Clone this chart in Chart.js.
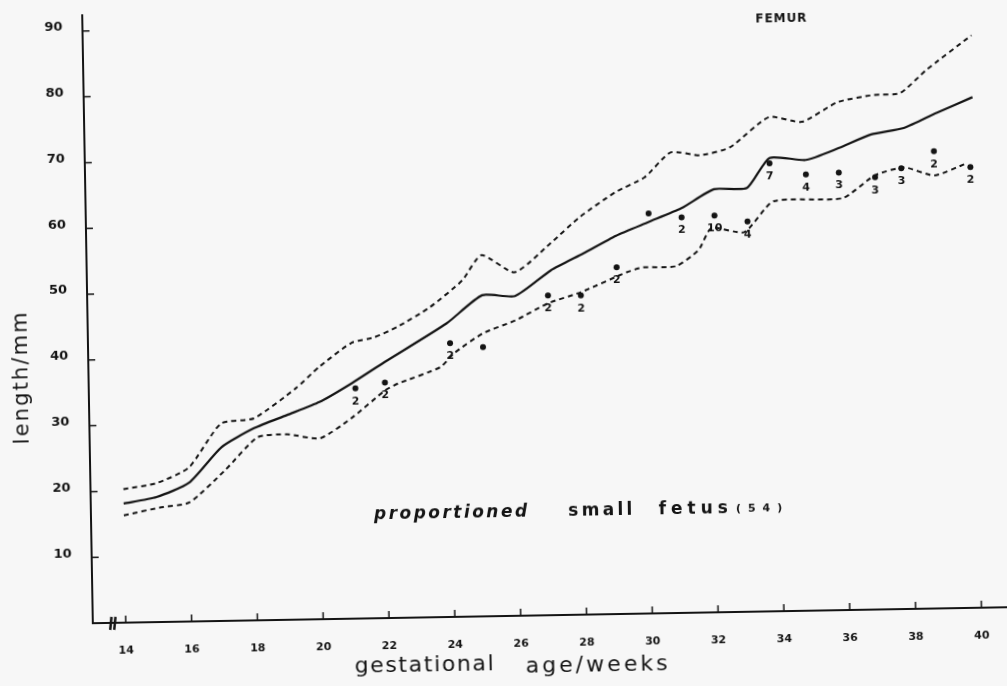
<!DOCTYPE html>
<html>
<head>
<meta charset="utf-8">
<script src="https://cdn.jsdelivr.net/npm/chart.js@4.4.1/dist/chart.umd.min.js"></script>
<style>
  html, body { margin: 0; padding: 0; background: #f7f7f7; overflow: hidden; }
  #wrap { width: 1007px; height: 686px; }
  /* the scanned page sits slightly tilted */
  #femurChart { transform: rotate(-1deg); transform-origin: 50% 50%; }
</style>
</head>
<body>
<div id="wrap"><canvas id="femurChart" width="1007" height="686"></canvas></div>
<script>
const ink = '#141414';

const xTicks = [14, 16, 18, 20, 22, 24, 26, 28, 30, 32, 34, 36, 38, 40];
const yTicks = [10, 20, 30, 40, 50, 60, 70, 80, 90];

// upper dashed curve
const upperWeeks  = [14, 15, 16, 17, 18, 19.3, 20, 21, 21.7, 22.4, 23.4, 24.4, 25, 26, 27.1, 28, 29.1, 30, 30.8, 31.7, 32.6, 33.8, 34.8, 35.9, 37, 37.8, 38.6, 40];
const upperLength = [20.3, 21.1, 23.4, 30.0, 30.7, 35.2, 38.3, 41.9, 42.7, 44.2, 47.1, 51.1, 54.9, 52.2, 56.5, 60.4, 64.1, 66.3, 70.0, 69.5, 70.6, 75.1, 74.3, 77.2, 78.2, 78.4, 81.8, 87.0];

// solid middle curve
const medianWeeks  = [14, 15, 16, 17, 18, 19, 20, 21, 22, 23.9, 25, 26, 27.1, 28.1, 29.1, 30.1, 31.1, 32.1, 33.1, 33.8, 34.9, 35.9, 36.9, 37.9, 38.9, 40];
const medianLength = [18.1, 19.0, 21.1, 26.4, 29.2, 31.1, 33.0, 35.8, 38.9, 44.6, 48.8, 48.6, 52.4, 54.9, 57.5, 59.5, 61.5, 64.3, 64.4, 68.9, 68.5, 70.2, 72.2, 73.1, 75.3, 77.6];

// lower dashed curve
const lowerWeeks  = [14, 15.1, 16, 17.1, 18.1, 19, 20, 21, 22, 22.4, 23.7, 24.1, 25, 26, 27, 28, 29.4, 29.9, 30.9, 31.6, 32, 33, 33.9, 36, 37, 37.9, 38.8, 39.8];
const lowerLength = [16.3, 17.4, 18.1, 22.9, 27.8, 28.2, 27.5, 30.6, 34.6, 35.6, 38.0, 40.0, 43.0, 44.9, 47.4, 49.0, 51.9, 52.6, 52.7, 55.1, 58.4, 57.7, 62.3, 62.6, 66.0, 67.1, 65.8, 67.6];

// proportioned small fetus measurements, with number of cases
const pointWeeks  = [21.1, 22, 24, 25, 27, 28, 29.1, 30.1, 31.1, 32.1, 33.1, 33.8, 34.9, 35.9, 37, 37.8, 38.8, 39.9];
const pointLength = [35.0, 35.8, 41.6, 40.9, 48.6, 48.5, 52.7, 60.8, 60.1, 60.3, 59.3, 68.1, 66.3, 66.5, 65.7, 67.0, 69.5, 67.0];
const pointCounts = ['2', '2', '2', '', '2', '2', '2', '', '2', '10', '4', '7', '4', '3', '3', '3', '2', '2'];

const toXY = (xs, ys) => xs.map((v, i) => ({ x: v, y: ys[i] }));

// draws text stretched letter by letter between x0 and x1
function spaced(ctx, text, x0, x1, yBase) {
  const chars = [...text];
  const widths = chars.map(c => ctx.measureText(c).width);
  const total = widths.reduce((a, b) => a + b, 0);
  const gap = chars.length > 1 ? (x1 - x0 - total) / (chars.length - 1) : 0;
  let cx = x0;
  ctx.textAlign = 'left';
  chars.forEach((c, i) => { ctx.fillText(c, cx, yBase); cx += widths[i] + gap; });
}

const annotations = {
  id: 'annotations',
  afterDraw(chart) {
    const { ctx, scales: { x, y }, chartArea } = chart;
    ctx.save();
    ctx.fillStyle = ink;
    ctx.strokeStyle = ink;

    // tick marks pointing into the plot
    ctx.lineWidth = 1.5;
    ctx.beginPath();
    xTicks.forEach(v => {
      const px = x.getPixelForValue(v);
      ctx.moveTo(px, chartArea.bottom); ctx.lineTo(px, chartArea.bottom - 7);
    });
    yTicks.forEach(v => {
      const py = y.getPixelForValue(v);
      ctx.moveTo(chartArea.left, py); ctx.lineTo(chartArea.left + 7, py);
    });
    ctx.stroke();

    // case counts under the dots
    ctx.font = 'bold 11px "DejaVu Sans"';
    ctx.textAlign = 'center';
    ctx.textBaseline = 'middle';
    pointWeeks.forEach((w, i) => {
      if (!pointCounts[i]) return;
      ctx.fillText(pointCounts[i], x.getPixelForValue(w), y.getPixelForValue(pointLength[i]) + 13);
    });

    ctx.textBaseline = 'alphabetic';
    ctx.font = 'bold 12px "DejaVu Sans"';
    spaced(ctx, 'FEMUR', x.getPixelForValue(33.45), x.getPixelForValue(35.0), y.getPixelForValue(89.5));

    const yb = y.getPixelForValue(15.0);
    ctx.font = 'italic bold 17px "DejaVu Sans"';
    spaced(ctx, 'proportioned', x.getPixelForValue(21.6), x.getPixelForValue(26.25), yb);
    ctx.font = 'bold 17px "DejaVu Sans"';
    spaced(ctx, 'small', x.getPixelForValue(27.5), x.getPixelForValue(29.45), yb);
    spaced(ctx, 'fetus', x.getPixelForValue(30.25), x.getPixelForValue(32.35), yb);
    ctx.font = 'bold 11px "DejaVu Sans"';
    spaced(ctx, '(54)', x.getPixelForValue(32.6), x.getPixelForValue(34.0), yb - 1);

    // axis titles
    ctx.font = '22px "DejaVu Sans"';
    spaced(ctx, 'gestational', 349, 488, 670);
    spaced(ctx, 'age/weeks', 520, 662, 673);
    ctx.save();
    ctx.font = '21px "DejaVu Sans"';
    ctx.translate(27, 436);
    ctx.rotate(-Math.PI / 2);
    spaced(ctx, 'length/mm', 0, 132, 0);
    ctx.restore();

    // break mark on the week axis
    const bx = x.getPixelForValue(13.6), by = chartArea.bottom;
    ctx.lineWidth = 2.5;
    ctx.beginPath();
    ctx.moveTo(bx - 2.5, by + 7); ctx.lineTo(bx - 1, by - 6);
    ctx.moveTo(bx + 1.5, by + 7); ctx.lineTo(bx + 3, by - 6);
    ctx.stroke();
    ctx.restore();
  }
};

const lineStyle = {
  borderColor: ink,
  borderWidth: 2,
  pointRadius: 0,
  tension: 0.2,
  fill: false
};

new Chart(document.getElementById('femurChart'), {
  type: 'line',
  data: {
    datasets: [
      { ...lineStyle, label: 'upper', data: toXY(upperWeeks, upperLength), borderDash: [5, 4] },
      { ...lineStyle, label: 'median', data: toXY(medianWeeks, medianLength), borderWidth: 2.2 },
      { ...lineStyle, label: 'lower', data: toXY(lowerWeeks, lowerLength), borderDash: [5, 4] },
      {
        label: 'proportioned small fetus',
        data: toXY(pointWeeks, pointLength),
        showLine: false,
        pointRadius: 3,
        pointBackgroundColor: ink,
        pointBorderWidth: 0
      }
    ]
  },
  options: {
    responsive: false,
    animation: false,
    layout: { padding: { top: 8, right: 4, left: 0, bottom: 0 } },
    plugins: { legend: { display: false }, tooltip: { enabled: false } },
    scales: {
      x: {
        type: 'linear',
        min: 13,
        max: 40.8,
        afterBuildTicks: axis => { axis.ticks = xTicks.map(v => ({ value: v })); },
        afterFit: axis => { axis.height = 70; },
        ticks: { autoSkip: false, maxRotation: 0, padding: 0, color: ink, font: { size: 11, weight: 'bold', family: 'DejaVu Sans' } },
        grid: { drawOnChartArea: false, drawTicks: true, tickLength: 22, tickColor: 'rgba(0,0,0,0)' },
        border: { display: true, color: ink, width: 2 }
      },
      y: {
        min: 0,
        max: 92.4,
        afterBuildTicks: axis => { axis.ticks = yTicks.map(v => ({ value: v })); },
        afterFit: axis => { axis.width = 88; },
        ticks: { padding: 0, labelOffset: -4, color: ink, font: { size: 13, weight: 'bold', family: 'DejaVu Sans' } },
        grid: { drawOnChartArea: false, drawTicks: true, tickLength: 20, tickColor: 'rgba(0,0,0,0)' },
        border: { display: true, color: ink, width: 2 }
      }
    }
  },
  plugins: [annotations]
});
</script>
</body>
</html>
